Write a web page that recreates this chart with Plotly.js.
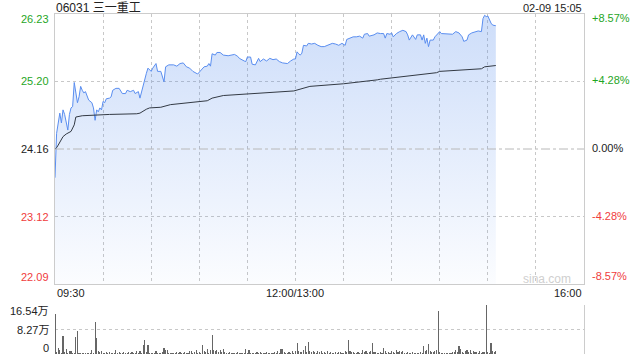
<!DOCTYPE html>
<html>
<head>
<meta charset="utf-8">
<script src="https://cdn.plot.ly/plotly-3.0.1.min.js"></script>
<style>html,body{margin:0;padding:0;background:#fff;}#chart{width:640px;height:360px;}</style>
</head>
<body>
<div id="chart"></div>
<script>
// ---- data ----
const titleText = "06031 三一重工";
const stampText = "02-09 15:05";
const prevClose = 24.16;
const priceTicks = [26.23, 25.20, 24.16, 23.12, 22.09];
const pctTicks = ["+8.57%", "+4.28%", "0.00%", "-4.28%", "-8.57%"];
const timeLabels = ["09:30", "12:00/13:00", "16:00"];
const volTicks = [16.54, 8.27, 0];
const volTickText = ["16.54万", "8.27万", "0"];

const priceTimes = ["09:30","09:31","09:33","09:34","09:35","09:36","09:38","09:39","09:40","09:41","09:42","09:43","09:44","09:45","09:46","09:47","09:48","09:49","09:50","09:51","09:53","09:54","09:55","09:56","09:57","09:58","09:59","10:00","10:01","10:02","10:04","10:05","10:06","10:08","10:10","10:12","10:14","10:15","10:17","10:19","10:20","10:22","10:23","10:25","10:27","10:28","10:30","10:31","10:33","10:34","10:36","10:38","10:39","10:41","10:44","10:46","10:48","10:50","10:52","10:54","10:56","10:59","11:01","11:03","11:05","11:06","11:07","11:08","11:10","11:11","11:13","11:15","11:18","11:20","11:22","11:24","11:25","11:28","11:29","11:30","11:32","11:33","11:35","11:37","11:38","11:40","11:42","11:44","11:46","11:48","11:50","11:52","11:55","11:57","11:59","12:00",
"13:01","13:02","13:03","13:04","13:05","13:07","13:08","13:10","13:12","13:14","13:16","13:18","13:20","13:23","13:25","13:27","13:29","13:31","13:32","13:34","13:36","13:38","13:40","13:42","13:43","13:45","13:46","13:49","13:51","13:53","13:55","13:56","13:57","13:59","14:00","14:01","14:03","14:05","14:07","14:09","14:10","14:11","14:13","14:15","14:16","14:18","14:19","14:20","14:21","14:22","14:23","14:24","14:26","14:27","14:28","14:30","14:31","14:33","14:34","14:36","14:38","14:40","14:42","14:44","14:45","14:47","14:48","14:50","14:52","14:54","14:56","14:57","14:58","14:59","15:00","15:01","15:02","15:03","15:05"];
const priceValues = [23.72,24.40,24.71,24.56,24.76,24.69,24.45,24.69,24.79,24.81,25.18,24.99,24.87,24.96,25.12,25.06,25.02,25.04,24.96,24.91,24.87,24.79,24.60,24.76,24.73,24.79,24.76,24.89,24.87,24.93,24.94,24.96,25.06,25.09,25.09,25.01,25.01,25.06,25.04,25.06,25.01,25.04,24.94,25.15,25.32,25.40,25.35,25.40,25.47,25.35,25.35,25.19,25.42,25.45,25.45,25.43,25.47,25.48,25.42,25.40,25.35,25.31,25.36,25.42,25.43,25.47,25.43,25.62,25.60,25.64,25.64,25.60,25.59,25.60,25.61,25.58,25.55,25.51,25.50,25.57,25.57,25.46,25.45,25.55,25.50,25.54,25.51,25.55,25.53,25.54,25.50,25.48,25.47,25.51,25.54,25.54,
25.65,25.62,25.60,25.63,25.75,25.74,25.78,25.77,25.78,25.75,25.73,25.73,25.75,25.78,25.77,25.75,25.78,25.75,25.84,25.86,25.88,25.88,25.89,25.86,25.92,25.93,25.89,25.91,25.94,25.93,25.93,25.86,25.93,25.92,25.94,25.88,25.93,25.96,25.98,25.96,25.91,25.83,25.91,25.84,25.91,25.91,25.83,25.91,25.78,25.86,25.73,25.83,25.83,25.88,25.91,25.96,25.93,25.93,25.92,25.92,25.92,25.96,25.94,25.88,25.81,25.83,25.91,25.94,25.96,25.97,25.96,26.16,26.21,26.19,26.20,26.14,26.09,26.06,26.05];

const avgTimes = ["09:30","09:31","09:32","09:34","09:35","09:37","09:40","09:42","09:43","09:47","09:54","10:04","10:21","10:23","10:27","10:29","10:36","10:40","10:42","11:05","11:08","11:15","11:36","11:59","13:09","13:30","13:51","13:53","14:28","14:30","14:56","14:58","15:05"];
const avgValues = [24.16,24.18,24.22,24.30,24.35,24.39,24.43,24.53,24.65,24.67,24.68,24.69,24.70,24.71,24.77,24.79,24.80,24.83,24.84,24.90,24.94,24.98,25.01,25.05,25.12,25.16,25.22,25.23,25.33,25.35,25.39,25.42,25.44];

// per-minute volume (万), morning 09:30-12:00 and afternoon 13:01-15:05
const volMorning = [13.6,0.8,1.9,1.2,0.5,6.0,0.6,1.6,0.4,1.1,
1.0,0.3,0.4,5.8,7.8,0.5,0.4,0.5,0.3,0.4,
0.3,0.2,0.3,1.2,0.4,10.8,5.5,0.9,0.6,1.0,
0.4,0.3,0.6,0.3,0.8,0.4,0.5,0.3,1.3,0.3,
0.6,0.4,0.2,0.7,0.5,0.3,0.6,0.4,0.8,0.3,
0.5,0.9,0.4,1.0,0.5,3.0,4.7,0.6,3.0,0.5,
0.3,0.5,0.2,0.9,0.4,0.3,0.5,0.6,2.0,1.4,
1.4,0.3,0.4,0.2,0.3,0.5,0.6,0.4,0.6,0.3,
0.5,0.8,0.4,0.5,0.9,1.1,0.4,0.6,1.2,0.5,
0.7,0.4,3.2,1.1,0.7,1.8,0.5,1.3,6.4,1.4,
0.9,1.3,0.6,1.4,0.7,1.8,0.8,0.5,0.4,0.6,
0.3,0.4,0.5,0.3,0.6,0.4,0.2,0.5,0.4,1.7,
0.4,1.2,0.3,0.5,0.2,0.4,0.6,0.3,0.7,0.5,
0.2,0.4,0.6,0.3,0.5,0.4,0.2,0.6,0.4,1.1,
0.5,1.6,1.7,0.8,0.4,0.3,0.7,0.4,1.0,0.5,0.9];
const volAfternoon = [3.8,0.9,0.6,0.8,1.3,2.6,0.7,4.1,0.9,0.6,
1.1,0.8,0.4,0.9,0.6,1.0,0.4,0.7,0.5,0.9,
0.4,0.6,0.3,0.5,0.8,0.4,0.7,0.6,0.3,0.5,
1.0,0.6,4.7,1.0,0.8,0.6,0.5,0.4,0.8,0.3,
0.5,1.4,0.6,0.9,0.4,0.7,1.0,3.8,0.8,0.6,
0.5,0.3,0.6,0.4,2.0,0.9,0.5,0.7,0.4,0.9,
0.6,0.5,1.2,0.8,1.0,0.6,1.1,0.5,0.4,0.8,
0.5,0.3,0.6,0.4,0.2,0.5,0.3,0.6,0.4,2.7,
0.9,1.3,3.5,1.0,0.6,0.8,1.0,1.4,14.4,0.6,
0.4,0.3,0.5,0.4,0.3,0.5,0.4,0.6,0.7,1.5,
0.6,2.7,1.6,0.8,0.5,0.9,1.3,0.6,1.4,0.5,
1.1,0.7,0.6,0.4,0.9,0.5,0.7,0.6,16.4,0.8,
0.5,3.7,1.0,0.8,1.0];

// ---- helpers ----
function idx(t){ const [h,m]=t.split(":").map(Number); let v=h*60+m-570; if(h>=13) v-=60; return v; }
const volX=[], volY=[];
volMorning.forEach((v,i)=>{volX.push(i); volY.push(v);});
volAfternoon.forEach((v,i)=>{volX.push(151+i); volY.push(v);});

const FONT = "Liberation Sans, Arial, Noto Sans CJK SC, sans-serif";
const GREEN = "#1fa61f", RED = "#f03c3c", BLACK = "#222";
const GRID = "#c8c8c8", BORDER = "#cccccc";

const traces = [
  {x: priceTimes.map(idx), y: priceValues, type:"scatter", mode:"lines",
   line:{color:"#5a8ef0", width:1}, fill:"tozeroy",
   fillgradient:{type:"vertical", start:priceTicks[4], stop:priceTicks[0],
     colorscale:[[0,"rgba(70,130,235,0.02)"],[1,"rgba(70,130,235,0.27)"]]},
   xaxis:"x", yaxis:"y", hoverinfo:"skip"},
  {x: avgTimes.map(idx), y: avgValues, type:"scatter", mode:"lines",
   line:{color:"#333a44", width:1}, xaxis:"x", yaxis:"y", hoverinfo:"skip"},
  {x: volX, y: volY, type:"bar", marker:{color:"#666", line:{width:0}}, width:0.7,
   xaxis:"x2", yaxis:"y2", hoverinfo:"skip"}
];

const annotations = [];
const colorFor = (i)=> i<2 ? GREEN : (i===2 ? BLACK : RED);
const shiftFor = (i)=> i===0 ? -5 : (i===4 ? 7 : 0);
priceTicks.forEach((p,i)=>{
  annotations.push({xref:"paper", yref:"y", x:0, y:p, xanchor:"right", yanchor:"middle",
    xshift:-4, yshift:shiftFor(i), showarrow:false, text:p.toFixed(2),
    font:{family:FONT, size:11, color:colorFor(i)}});
  annotations.push({xref:"paper", yref:"y", x:1, y:p, xanchor:"left", yanchor:"middle",
    xshift:6, yshift:shiftFor(i)+1, showarrow:false, text:pctTicks[i],
    font:{family:FONT, size:11, color:colorFor(i)}});
});
// x labels
annotations.push({xref:"x", yref:"paper", x:0, y:0.179, xanchor:"left", yanchor:"middle", showarrow:false,
  text:timeLabels[0], font:{family:FONT, size:11, color:BLACK}});
annotations.push({xref:"x", yref:"paper", x:150, y:0.179, xanchor:"center", yanchor:"middle", showarrow:false,
  text:timeLabels[1], font:{family:FONT, size:11, color:BLACK}});
annotations.push({xref:"x", yref:"paper", x:330, y:0.179, xanchor:"right", yanchor:"middle", showarrow:false,
  text:timeLabels[2], font:{family:FONT, size:11, color:BLACK}});
// volume labels
volTicks.forEach((v,i)=>{
  annotations.push({xref:"paper", yref:"y2", x:0, y:v, xanchor:"right", yanchor:"middle",
    xshift:-4, yshift: i===0 ? -6 : (i===2 ? 6 : 0), showarrow:false, text:volTickText[i],
    font:{family:FONT, size:11, color:BLACK}});
});
// title + stamp
annotations.push({xref:"paper", yref:"paper", x:0, y:1.018, xanchor:"left", yanchor:"middle", xshift:-1,
  showarrow:false, text:titleText, font:{family:FONT, size:12, color:BLACK}});
annotations.push({xref:"paper", yref:"paper", x:1, y:1.018, xanchor:"right", yanchor:"middle",
  showarrow:false, text:stampText, font:{family:FONT, size:11, color:BLACK}});
// watermark
annotations.push({xref:"paper", yref:"paper", x:0.979, y:0.221, xanchor:"right", yanchor:"middle",
  showarrow:false, text:"sina.com", font:{family:FONT, size:12, color:"#cfcfcf"}});

const layout = {
  width:640, height:360, margin:{l:55, r:56, t:14, b:6},
  paper_bgcolor:"#fff", plot_bgcolor:"#fff", showlegend:false,
  xaxis:{domain:[0,1], anchor:"y", range:[0,330], tickvals:[0,30,60,90,120,150,180,210,240,270,300,330],
    showticklabels:false, ticks:"", showgrid:true, gridcolor:GRID, griddash:"dot", gridwidth:1,
    showline:true, linecolor:BORDER, linewidth:1, mirror:true, zeroline:false, fixedrange:true},
  yaxis:{domain:[0.2059,1], anchor:"x", range:[priceTicks[4], priceTicks[0]],
    tickvals:[priceTicks[1], priceTicks[3]], showticklabels:false, ticks:"",
    showgrid:true, gridcolor:GRID, griddash:"dot", gridwidth:1,
    showline:true, linecolor:BORDER, linewidth:1, mirror:true, zeroline:false},
  xaxis2:{domain:[0,1], anchor:"y2", range:[0,330], matches:"x", showticklabels:false, ticks:"",
    showgrid:false, showline:false, zeroline:false},
  yaxis2:{domain:[0,0.1441], anchor:"x2", range:[0, volTicks[0]], tickvals:[volTicks[1], volTicks[0]],
    showticklabels:false, ticks:"", showgrid:true, gridcolor:GRID, griddash:"dot", gridwidth:1,
    showline:true, side:"right", linecolor:BORDER, linewidth:1, zeroline:false},
  shapes:[{type:"line", xref:"paper", x0:0, x1:1, yref:"y", y0:prevClose, y1:prevClose,
    line:{color:"#b8b8b8", width:1, dash:"dashdot"}}],
  annotations: annotations,
  bargap:0
};

Plotly.newPlot("chart", traces, layout, {staticPlot:true, displayModeBar:false});
</script>
</body>
</html>
